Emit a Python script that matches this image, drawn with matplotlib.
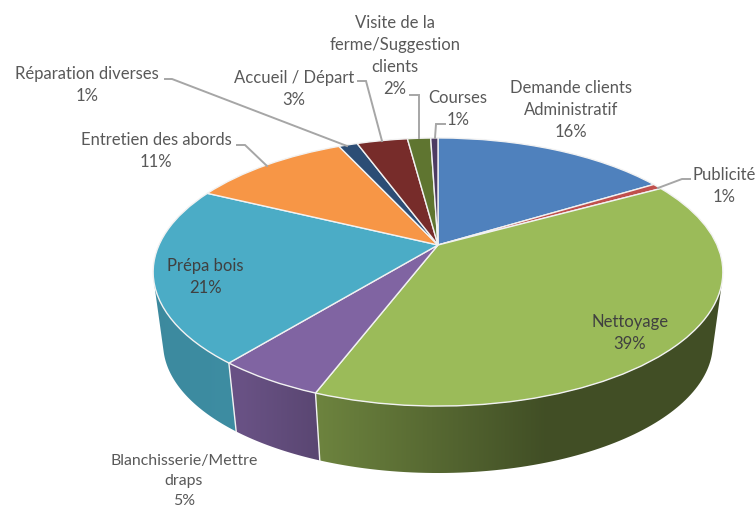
import numpy as np
import matplotlib
matplotlib.use('Agg')
import matplotlib.pyplot as plt
from matplotlib.patches import PathPatch
from matplotlib.path import Path
from matplotlib.transforms import Transform

# parts of the pie, clockwise from the top
names = ["Demande clients\nAdministratif", "Publicité", "Nettoyage", "Blanchisserie/Mettre\ndraps",
         "Prépa bois", "Entretien des abords", "Réparation diverses", "Accueil / Départ",
         "Visite de la\nferme/Suggestion\nclients", "Courses"]
shares = [16.3, 0.7, 38.8, 5.1, 21.3, 10.9, 1.3, 3.5, 1.6, 0.5]
printed = ["16%", "1%", "39%", "5%", "21%", "11%", "1%", "3%", "2%", "1%"]
colors = ["#4f81bd", "#c0504d", "#9bbb59", "#8064a2", "#4bacc6",
          "#f79646", "#2c4d75", "#772c2a", "#5f7530", "#4d3b62"]

# centre of each label block, in pixels
label_x = [571, 724, 630, 184, 205, 156, 87, 294, 395, 458]
label_y = [110, 186, 333, 481, 277, 151, 85, 89, 56, 109]
label_size = [12, 12, 12, 11.4, 12, 12, 12, 12, 12, 12]

# leader lines, in pixels
leaders = [
    [(690, 179), (682, 179), (658, 188)],
    [(165, 79), (172, 79), (347, 146)],
    [(237, 145), (245, 145), (267, 166)],
    [(358, 81), (366, 81), (382, 141)],
    [(410, 95), (419, 95), (419, 138)],
    [(445, 124), (436, 124), (435, 138)],
]

# perspective of the tilted disc
APEX_X, APEX_Y = 438, 245
A, B, K = 279.0, 128.6, 0.2015
# bottom rim
RIM_SCALE, RIM_DROP = 0.965, 72.6

# darkening of the side wall across the picture
shade_x = [155, 240, 320, 545, 723]
shade_f = [0.80, 0.82, 0.70, 0.42, 0.42]


def project(u, v):
    w = 1 + K * v
    return A * u / w, B * v / w


def rims(t):
    x, y = project(np.sin(t), np.cos(t))
    top = np.column_stack([APEX_X + x, APEX_Y - y])
    bottom = np.column_stack([APEX_X + RIM_SCALE * x, APEX_Y - RIM_SCALE * y + RIM_DROP])
    return top, bottom


class DiscTransform(Transform):
    input_dims = 2
    output_dims = 2
    is_affine = False

    def transform_non_affine(self, values):
        values = np.asarray(values)
        x, y = project(values[:, 0], values[:, 1])
        return np.column_stack([APEX_X + x, APEX_Y - y])


plt.rcParams['font.family'] = ['Lato', 'DejaVu Sans']

fig = plt.figure(figsize=(7.56, 5.11), dpi=100)
ax = fig.add_axes([0, 0, 1, 1])

wedges, _ = ax.pie(shares, colors=colors, startangle=90, counterclock=False,
                   wedgeprops={'edgecolor': '#f2f2f2', 'linewidth': 1.0, 'zorder': 5})
ax.set_aspect('auto')
ax.axis('off')

tr = DiscTransform() + ax.transData
for w in wedges:
    w.set_transform(tr)

# side walls: small quads between the two rims, only those facing the viewer
edges = np.cumsum([0] + shares) / 100 * 2 * np.pi
xx = np.arange(150, 730)
for i, col in enumerate(colors):
    t = np.linspace(edges[i], edges[i + 1], 120)
    top, bottom = rims(t)
    quads = []
    for j in range(len(t) - 1):
        d = top[j + 1] - top[j]
        h = bottom[j] - top[j]
        if d[0] * h[1] - d[1] * h[0] < 0:
            quads.append(Path([top[j], top[j + 1], bottom[j + 1], bottom[j], top[j]], closed=True))
    if not quads:
        continue
    rgb = np.array(matplotlib.colors.to_rgb(col))
    grad = np.interp(xx, shade_x, shade_f)[None, :, None] * rgb[None, None, :]
    im = ax.imshow(grad, extent=(150, 730, 480, 100), aspect='auto', zorder=2)
    clip = PathPatch(Path.make_compound_path(*quads), transform=ax.transData)
    im.set_clip_path(clip)

# seams between the walls
for e in edges:
    top, bottom = rims(np.array([e]))
    if top[0, 1] > 272:
        ax.plot([top[0, 0], bottom[0, 0]], [top[0, 1], bottom[0, 1]], color='#f2f2f2', lw=1.0, zorder=3)

ax.set_xlim(0, 756)
ax.set_ylim(511, 0)

for pts in leaders:
    ax.plot([p[0] for p in pts], [p[1] for p in pts], color='#a6a6a6', lw=1.4, zorder=6,
            solid_joinstyle='miter')

for i in range(len(names)):
    txt_col = '#404040' if names[i] in ("Nettoyage", "Prépa bois") else '#595959'
    ax.text(label_x[i], label_y[i], names[i] + "\n" + printed[i], ha='center', va='center',
            fontsize=label_size[i], color=txt_col, linespacing=1.48 * 12 / label_size[i], zorder=7)

fig.savefig('out.png', dpi=100)
